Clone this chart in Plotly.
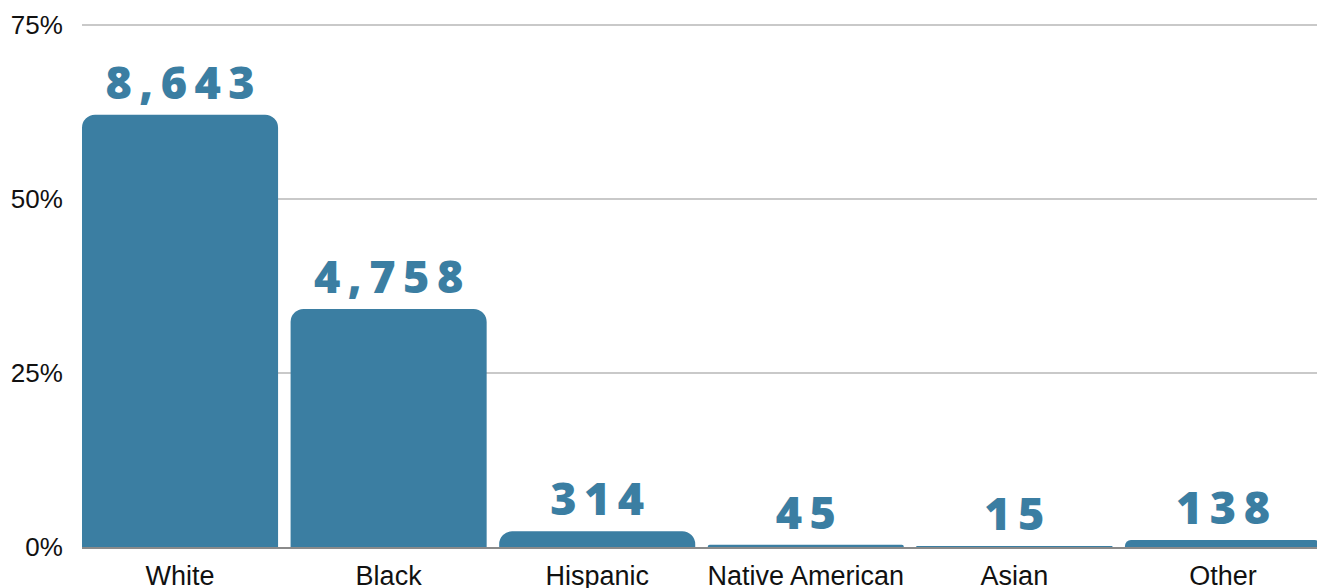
import numpy as np
import plotly.graph_objects as go

races = ["White", "Black", "Hispanic", "Native American", "Asian", "Other"]
counts = [8643, 4758, 314, 45, 15, 138]
y_ticks = [0, 25, 50, 75]
y_tick_labels = ["0%", "25%", "50%", "75%"]

BAR_COLOR = "#3b7ea2"
BAR_GAP = 0.06

shares = np.array(counts) / sum(counts) * 100.0
# разрядка цифр тонкими пробелами, как в оригинале
labels = ["\u2009".join(f"{c:,}") for c in counts]

fig = go.Figure(
    go.Bar(
        x=races,
        y=shares,
        text=labels,
        textposition="outside",
        textfont=dict(family="Open Sans", size=45, color=BAR_COLOR, weight=800),
        marker=dict(color=BAR_COLOR, line=dict(width=0)),
        cliponaxis=False,
        hoverinfo="skip",
    )
)

# страница имеет отступ body 8px — учитываем его в размерах и полях
fig.update_layout(
    width=1317,
    height=580,
    margin=dict(l=74, r=4, t=16, b=41, autoexpand=False),
    paper_bgcolor="white",
    plot_bgcolor="white",
    bargap=BAR_GAP,
    barcornerradius=13,
    showlegend=False,
    xaxis=dict(
        automargin=False,
        range=[-0.5 + BAR_GAP / 2, len(races) - 0.5 - BAR_GAP / 2],
        showgrid=False,
        showline=True,
        linecolor="#8a8a8a",
        linewidth=2,
        ticks="outside",
        ticklen=4,
        tickcolor="rgba(0,0,0,0)",
        tickfont=dict(family="Liberation Sans", size=27, color="#111"),
    ),
    yaxis=dict(
        automargin=False,
        range=[0, 75.15],
        tickvals=y_ticks,
        ticktext=y_tick_labels,
        showgrid=True,
        gridcolor="#c9c9c9",
        gridwidth=1.5,
        zeroline=False,
        ticks="outside",
        ticklen=13,
        tickcolor="rgba(0,0,0,0)",
        tickfont=dict(family="Liberation Sans", size=26, color="#111"),
    ),
)

fig.write_html("out.html")
